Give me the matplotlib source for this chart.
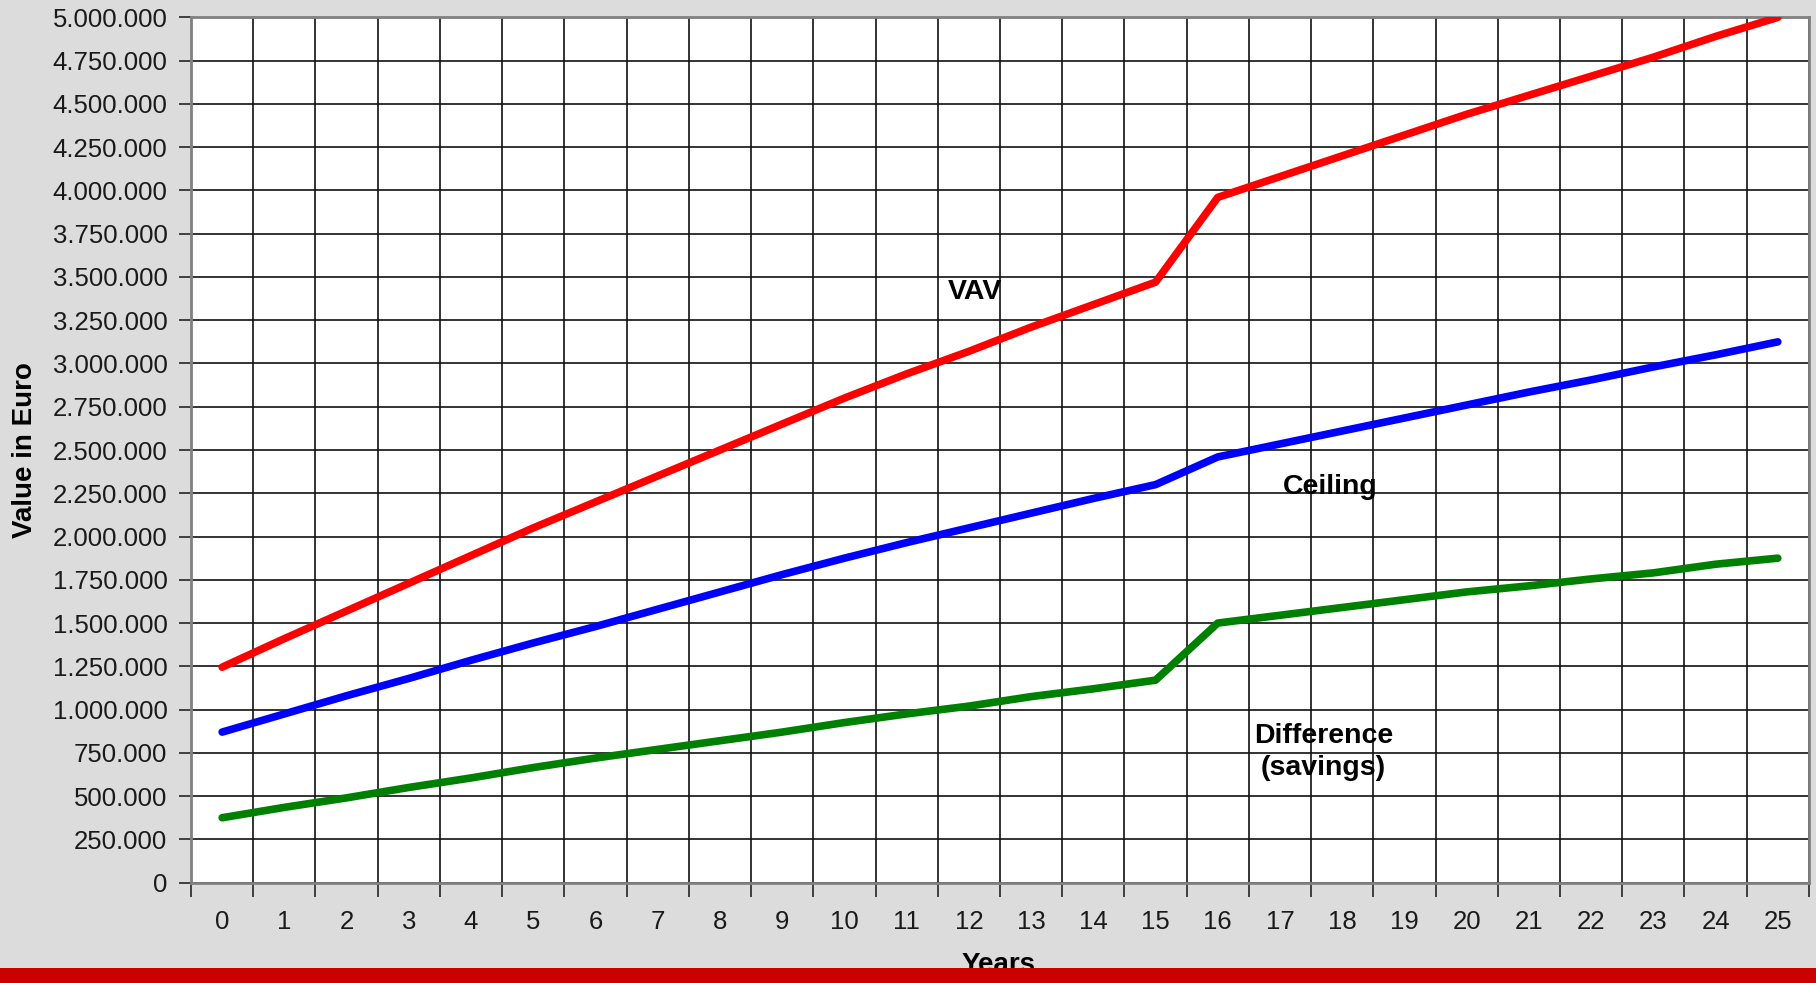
import numpy as np
import matplotlib
matplotlib.use("Agg")
from matplotlib import pyplot as plt
from matplotlib.patches import Rectangle
from matplotlib.ticker import FuncFormatter, MultipleLocator

plt.rcParams['font.family'] = ['Liberation Sans', 'DejaVu Sans']

# Data (values in euro)
years = list(range(26))
vav = [1245000, 1410000, 1570000, 1730000, 1890000, 2050000, 2200000, 2350000,
       2500000, 2650000, 2800000, 2940000, 3070000, 3210000, 3340000, 3470000,
       3960000, 4080000, 4200000, 4320000, 4440000, 4550000, 4660000, 4770000,
       4890000, 5000000]
ceiling = [870000, 975000, 1080000, 1180000, 1285000, 1385000, 1480000, 1580000,
           1680000, 1780000, 1875000, 1965000, 2050000, 2135000, 2220000, 2300000,
           2460000, 2535000, 2610000, 2685000, 2760000, 2835000, 2905000, 2980000,
           3050000, 3125000]
difference = [375000, 435000, 490000, 550000, 605000, 665000, 720000, 770000,
              820000, 870000, 925000, 975000, 1020000, 1075000, 1120000, 1170000,
              1500000, 1545000, 1590000, 1635000, 1680000, 1715000, 1755000, 1790000,
              1840000, 1875000]

bg = '#dcdcdc'
fig = plt.figure(figsize=(18.16, 9.83), dpi=100, facecolor=bg)
ax = fig.add_axes([0.1052, 0.1021, 0.8909, 0.8802])
ax.set_facecolor('white')

ax.plot(years, vav, color='#ff0000', lw=5.5, solid_capstyle='round', zorder=3)
ax.plot(years, ceiling, color='#0000ff', lw=5.5, solid_capstyle='round', zorder=3)
ax.plot(years, difference, color='#008000', lw=5.5, solid_capstyle='round', zorder=3)

# axes and grid
ax.set_xlim(-0.5, 25.5)
ax.set_ylim(0, 5000000)
ax.yaxis.set_major_locator(MultipleLocator(250000))
ax.yaxis.set_major_formatter(FuncFormatter(lambda v, p: f"{int(v):,}".replace(",", ".")))
ax.set_xticks(np.arange(-0.5, 26, 1))
ax.set_xticklabels([])
ax.set_xticks(years, minor=True)
ax.set_xticklabels([str(y) for y in years], minor=True)
ax.tick_params(axis='x', which='major', length=10, width=1.3, color='#333333')
ax.tick_params(axis='x', which='minor', length=0, pad=20, labelsize=18.5, labelcolor='#1a1a1a')
ax.tick_params(axis='y', length=9, width=1.3, color='#333333', pad=8,
               labelsize=18.5, labelcolor='#1a1a1a')
ax.grid(True, which='major', color='#111111', lw=1.2, zorder=1)
for s in ax.spines.values():
    s.set_color('#808080')
    s.set_linewidth(2)

ax.set_ylabel('Value in Euro', fontsize=20, fontweight='bold')
ax.yaxis.set_label_coords(-0.0945, 0.5)
ax.set_xlabel('Years', fontsize=20, fontweight='bold', va='top')
ax.xaxis.set_label_coords(0.499, -0.0805)

# series labels
ax.text(12.1, 3413000, 'VAV', fontsize=20.5, fontweight='bold', ha='center', va='center')
ax.text(17.8, 2286000, 'Ceiling', fontsize=20.5, fontweight='bold', ha='center', va='center')
ax.text(17.7, 755000, 'Difference\n(savings)', fontsize=20.5, fontweight='bold',
        ha='center', va='center', multialignment='center', linespacing=1.3)

# red band at the bottom of the slide
fig.add_artist(Rectangle((0, 0), 1, 15 / 983, transform=fig.transFigure,
                         facecolor='#cc0000', edgecolor='none', zorder=5))

fig.savefig('out.png', dpi=100, facecolor=bg)
